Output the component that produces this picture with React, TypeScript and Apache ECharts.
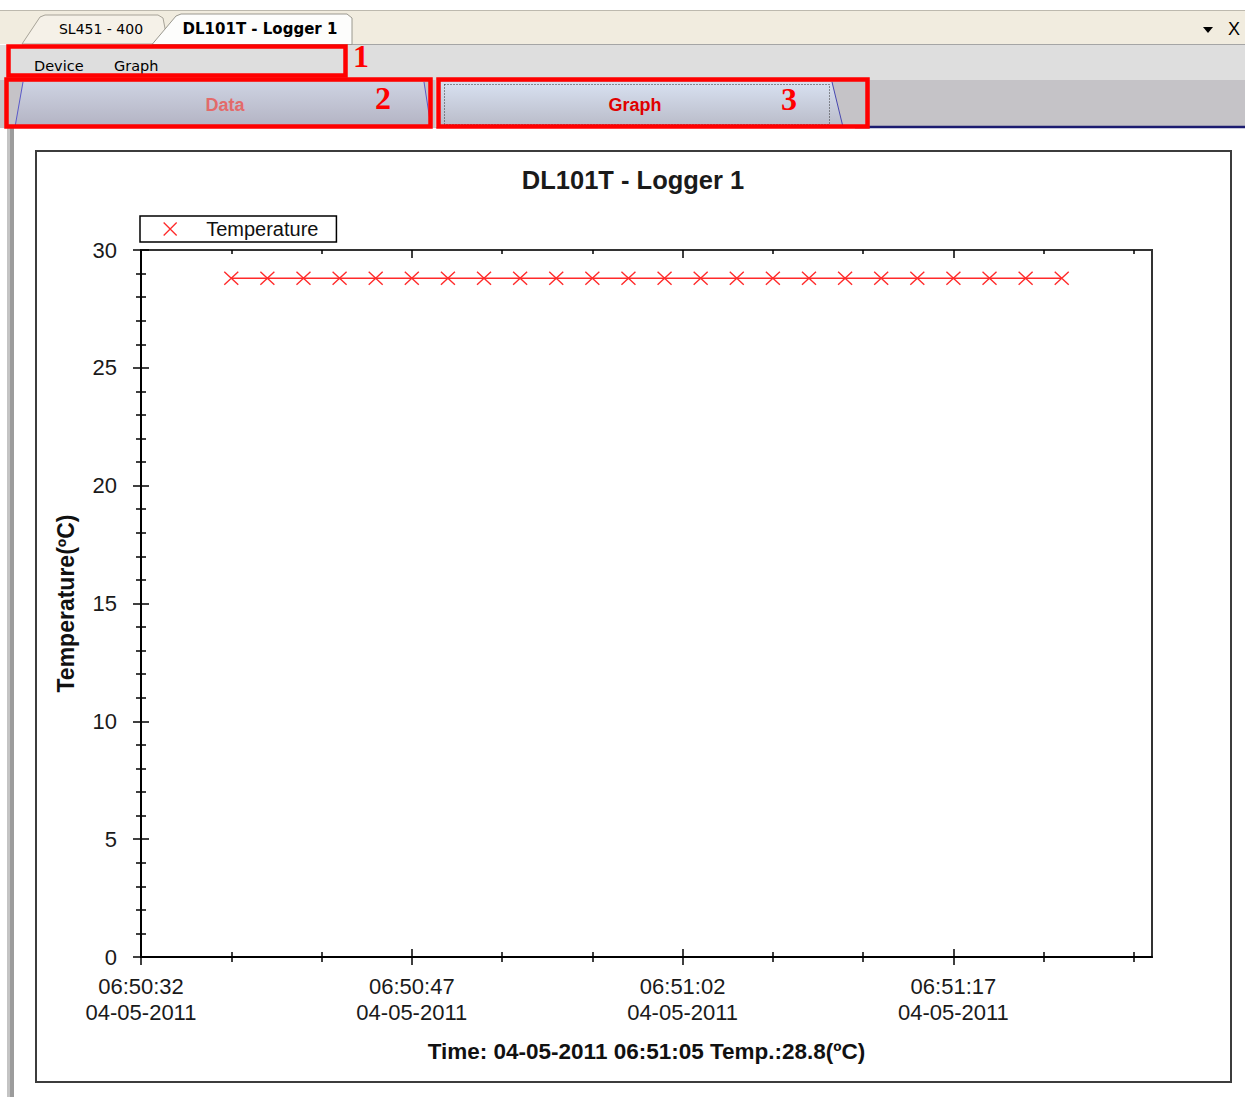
import React, { useEffect, useRef } from "react";
import * as echarts from "echarts";

// ---------- data ----------
const chartTitle = "DL101T - Logger 1";
const seriesName = "Temperature";
const yAxisName = "Temperature(ºC)";
const statusText = "Time: 04-05-2011 06:51:05 Temp.:28.8(ºC)";
const logDate = "04-05-2011";
const startTime = "06:50:32";
const endTime = "06:51:28";
const sampleTimes = [
  "06:50:37", "06:50:39", "06:50:41", "06:50:43", "06:50:45", "06:50:47",
  "06:50:49", "06:50:51", "06:50:53", "06:50:55", "06:50:57", "06:50:59",
  "06:51:01", "06:51:03", "06:51:05", "06:51:07", "06:51:09", "06:51:11",
  "06:51:13", "06:51:15", "06:51:17", "06:51:19", "06:51:21", "06:51:23",
];
const temperatures = [
  28.8, 28.8, 28.8, 28.8, 28.8, 28.8, 28.8, 28.8, 28.8, 28.8, 28.8, 28.8,
  28.8, 28.8, 28.8, 28.8, 28.8, 28.8, 28.8, 28.8, 28.8, 28.8, 28.8, 28.8,
];
const majorTickTimes = ["06:50:32", "06:50:47", "06:51:02", "06:51:17"];
const minorTickTimes = [
  "06:50:37", "06:50:42", "06:50:52", "06:50:57",
  "06:51:07", "06:51:12", "06:51:22", "06:51:27",
];
const yMin = 0;
const yMax = 30;
const yStep = 5;

const docTabs = ["SL451 - 400", "DL101T - Logger 1"];
const menuItems = ["Device", "Graph"];
const viewTabs = ["Data", "Graph"];
const markers = ["1", "2", "3"];

// ---------- helpers ----------
const toAbs = (t: string) => {
  const [h, m, s] = t.split(":").map(Number);
  return h * 3600 + m * 60 + s;
};
const toSec = (t: string) => toAbs(t) - toAbs(startTime);

const majorVals = majorTickTimes.map(toSec);
const minorVals = minorTickTimes.map(toSec);
const xMax = toSec(endTime);
const seriesData = sampleTimes.map((t, i) => [toSec(t), temperatures[i]]);

const RED = "#ff2a2a";
const XSYM = "path://M0,0L10,10M10,0L0,10";
const FONT = "'Liberation Sans', Arial, sans-serif";
const UIFONT = "'DejaVu Sans', Tahoma, sans-serif";

const xBase = (extra: any) => ({
  type: "value",
  min: 0,
  max: xMax,
  splitLine: { show: false },
  axisLabel: { show: false },
  axisLine: { show: false },
  ...extra,
});
const yBase = (extra: any) => ({
  type: "value",
  min: yMin,
  max: yMax,
  interval: yStep,
  splitLine: { show: false },
  axisLabel: { show: false },
  axisLine: { show: false },
  ...extra,
});
const tickStyle = { color: "#000", width: 1.5 };

function buildOption() {
  const grad = (a: string, b: string) => ({
    type: "linear", x: 0, y: 0, x2: 0, y2: 1,
    colorStops: [{ offset: 0, color: a }, { offset: 1, color: b }],
  });
  const graphic: any[] = [
    // tab bar
    { type: "rect", z: -5, shape: { x: 0, y: 10, width: 1245, height: 34 }, style: { fill: "#f1ecdf" } },
    { type: "line", z: -5, shape: { x1: 0, y1: 10.5, x2: 1245, y2: 10.5 }, style: { stroke: "#bdb9ae", lineWidth: 1 } },
    { type: "polygon", z: -4, shape: { points: [[22, 44], [40, 17], [45, 15], [158, 15], [163, 18], [168, 44]] }, style: { fill: "#f5f1e8", stroke: "#a7a398", lineWidth: 1 } },
    { type: "polygon", z: -3, shape: { points: [[152, 44.5], [176, 16], [181, 14], [347, 14], [352, 18], [352, 44.5]] }, style: { fill: "#fdfdfc", stroke: "#9a988f", lineWidth: 1 } },
    { type: "text", z: -2, style: { x: 101, y: 29, text: docTabs[0], align: "center", verticalAlign: "middle", font: `14px ${UIFONT}`, fill: "#000" } },
    { type: "text", z: -2, style: { x: 260, y: 29, text: docTabs[1], align: "center", verticalAlign: "middle", font: `bold 15px ${UIFONT}`, fill: "#000" } },
    { type: "polygon", z: -2, shape: { points: [[1203, 27], [1213, 27], [1208, 33]] }, style: { fill: "#000" } },
    { type: "text", z: -2, style: { x: 1234, y: 29, text: "X", align: "center", verticalAlign: "middle", font: `18px ${FONT}`, fill: "#000" } },
    // menu bar
    { type: "rect", z: -5, shape: { x: 0, y: 45, width: 1245, height: 35 }, style: { fill: "#dedede" } },
    { type: "line", z: -4, shape: { x1: 352, y1: 44.5, x2: 1245, y2: 44.5 }, style: { stroke: "#a5a5a5", lineWidth: 1 } },
    { type: "text", z: -2, style: { x: 34, y: 66, text: menuItems[0], verticalAlign: "middle", font: `14.5px ${UIFONT}`, fill: "#000" } },
    { type: "text", z: -2, style: { x: 114, y: 66, text: menuItems[1], verticalAlign: "middle", font: `14.5px ${UIFONT}`, fill: "#000" } },
    // view tab strip
    { type: "rect", z: -5, shape: { x: 0, y: 80, width: 1245, height: 48 }, style: { fill: "#c5c3c7" } },
    { type: "polygon", z: -4, shape: { points: [[15, 127], [23, 82], [424, 82], [431, 127]] }, style: { fill: grad("#ced3e2", "#b3b3c3") } },
    { type: "line", z: -3, shape: { x1: 15, y1: 127, x2: 23, y2: 82 }, style: { stroke: "#5a5ac8", lineWidth: 1 } },
    { type: "line", z: -3, shape: { x1: 424, y1: 82, x2: 431, y2: 127 }, style: { stroke: "#5a5ac8", lineWidth: 1 } },
    { type: "polygon", z: -4, shape: { points: [[438, 82], [832, 82], [843, 127], [438, 127]] }, style: { fill: grad("#d8e1f1", "#b9bbc8") } },
    { type: "line", z: -3, shape: { x1: 832, y1: 82, x2: 843, y2: 127 }, style: { stroke: "#4848b0", lineWidth: 1 } },
    { type: "rect", z: -3, shape: { x: 444.5, y: 84.5, width: 385, height: 40 }, style: { fill: "none", stroke: "#333", lineWidth: 1, lineDash: [1, 2] } },
    { type: "line", z: -3, shape: { x1: 436.5, y1: 80, x2: 436.5, y2: 127 }, style: { stroke: "#ffffff", lineWidth: 1.5 } },
    { type: "line", z: -3, shape: { x1: 855, y1: 127, x2: 1245, y2: 127 }, style: { stroke: "#1c1c70", lineWidth: 2.5 } },
    { type: "text", z: -2, style: { x: 225, y: 105, text: viewTabs[0], align: "center", verticalAlign: "middle", font: `bold 18px ${FONT}`, fill: "#e36a6a" } },
    { type: "text", z: -2, style: { x: 635, y: 105, text: viewTabs[1], align: "center", verticalAlign: "middle", font: `bold 18px ${FONT}`, fill: "#e00000" } },
    // left window edge
    { type: "rect", z: -4, shape: { x: 7, y: 128, width: 3, height: 969 }, style: { fill: "#c4c4c4" } },
    { type: "rect", z: -4, shape: { x: 10, y: 128, width: 4, height: 969 }, style: { fill: "#9c9c9c" } },
    // chart frame
    { type: "rect", z: -1, shape: { x: 36, y: 151, width: 1195, height: 931 }, style: { fill: "none", stroke: "#3c3c3c", lineWidth: 2 } },
    // red annotations
    { type: "rect", z: 100, shape: { x: 8.5, y: 46.5, width: 337, height: 29 }, style: { fill: "none", stroke: "#ff0000", lineWidth: 4.5 } },
    { type: "rect", z: 100, shape: { x: 6.5, y: 79.5, width: 424, height: 47 }, style: { fill: "none", stroke: "#ff0000", lineWidth: 4.5 } },
    { type: "rect", z: 100, shape: { x: 438.5, y: 79.5, width: 429, height: 47 }, style: { fill: "none", stroke: "#ff0000", lineWidth: 4.5 } },
    { type: "text", z: 100, style: { x: 361, y: 56, text: markers[0], align: "center", verticalAlign: "middle", font: `bold 32px 'Liberation Serif', serif`, fill: "#ff0000" } },
    { type: "text", z: 100, style: { x: 383, y: 98, text: markers[1], align: "center", verticalAlign: "middle", font: `bold 32px 'Liberation Serif', serif`, fill: "#ff0000" } },
    { type: "text", z: 100, style: { x: 789, y: 99, text: markers[2], align: "center", verticalAlign: "middle", font: `bold 32px 'Liberation Serif', serif`, fill: "#ff0000" } },
  ];

  return {
    animation: false,
    backgroundColor: "#ffffff",
    title: {
      text: chartTitle,
      left: 633,
      top: 167,
      textAlign: "center",
      padding: 0,
      textStyle: { fontFamily: FONT, fontSize: 25.5, fontWeight: "bold", color: "#1a1a1a" },
    },
    legend: {
      left: 140,
      top: 216,
      padding: [3, 18, 3, 23],
      borderColor: "#000",
      borderWidth: 1.5,
      itemWidth: 14,
      itemHeight: 13,
      itemStyle: { color: "rgba(0,0,0,0)", borderColor: RED, borderWidth: 1.3 },
      data: [{ name: seriesName, icon: XSYM }],
      textStyle: { fontFamily: FONT, fontSize: 20, color: "#111", padding: [0, 0, 0, 24] },
    },
    grid: {
      left: 141,
      top: 250,
      width: 1011,
      height: 707,
      show: true,
      borderColor: "#333",
      borderWidth: 2,
      backgroundColor: "rgba(0,0,0,0)",
    },
    xAxis: [
      xBase({
        position: "bottom",
        axisLine: { show: true, lineStyle: { color: "#000", width: 2 } },
        axisTick: { show: true, length: 8, customValues: majorVals, lineStyle: tickStyle },
        axisLabel: {
          show: true,
          customValues: majorVals,
          margin: 16,
          fontFamily: FONT,
          fontSize: 22,
          lineHeight: 26,
          color: "#1a1a1a",
          formatter: (v: number) => {
            const i = majorVals.indexOf(Math.round(v));
            return i >= 0 ? `${majorTickTimes[i]}\n${logDate}` : "";
          },
        },
        name: statusText,
        nameLocation: "middle",
        nameGap: 83,
        nameTextStyle: { fontFamily: FONT, fontSize: 22.5, fontWeight: "bold", color: "#111" },
      }),
      xBase({ position: "bottom", axisTick: { show: true, inside: true, length: 8, customValues: majorVals, lineStyle: tickStyle } }),
      xBase({ position: "bottom", axisTick: { show: true, length: 5, customValues: minorVals, lineStyle: tickStyle } }),
      xBase({ position: "bottom", axisTick: { show: true, inside: true, length: 5, customValues: minorVals, lineStyle: tickStyle } }),
      xBase({
        position: "top",
        axisLine: { show: true, lineStyle: { color: "#333", width: 2 } },
        axisTick: { show: true, inside: true, length: 8, customValues: majorVals, lineStyle: tickStyle },
      }),
      xBase({ position: "top", axisTick: { show: true, inside: true, length: 4, customValues: minorVals, lineStyle: tickStyle } }),
    ],
    yAxis: [
      yBase({
        position: "left",
        axisLine: { show: true, lineStyle: { color: "#000", width: 2 } },
        axisTick: { show: true, length: 8, lineStyle: tickStyle },
        minorTick: { show: true, splitNumber: 5, length: 5, lineStyle: tickStyle },
        axisLabel: { show: true, margin: 24, fontFamily: FONT, fontSize: 22, color: "#1a1a1a" },
        name: yAxisName,
        nameLocation: "middle",
        nameGap: 64,
        nameTextStyle: { fontFamily: FONT, fontSize: 23, fontWeight: "bold", color: "#111" },
      }),
      yBase({
        position: "left",
        axisTick: { show: true, inside: true, length: 8, lineStyle: tickStyle },
        minorTick: { show: true, splitNumber: 5, length: 5, lineStyle: tickStyle },
      }),
    ],
    series: [
      {
        name: seriesName,
        type: "line",
        xAxisIndex: 0,
        yAxisIndex: 0,
        data: seriesData,
        symbol: XSYM,
        symbolSize: [14, 13],
        lineStyle: { color: RED, width: 1.5 },
        itemStyle: { color: "rgba(0,0,0,0)", borderColor: RED, borderWidth: 1.3 },
        emphasis: { disabled: true },
        z: 5,
      },
    ],
    graphic,
  };
}

export default function App() {
  const ref = useRef<HTMLDivElement>(null);
  useEffect(() => {
    const chart = echarts.init(ref.current!, null, { renderer: "svg" });
    chart.setOption(buildOption() as any);
    return () => chart.dispose();
  }, []);
  return (
    <div
      ref={ref}
      style={{ position: "absolute", left: 0, top: 0, width: 1245, height: 1097 }}
    />
  );
}
